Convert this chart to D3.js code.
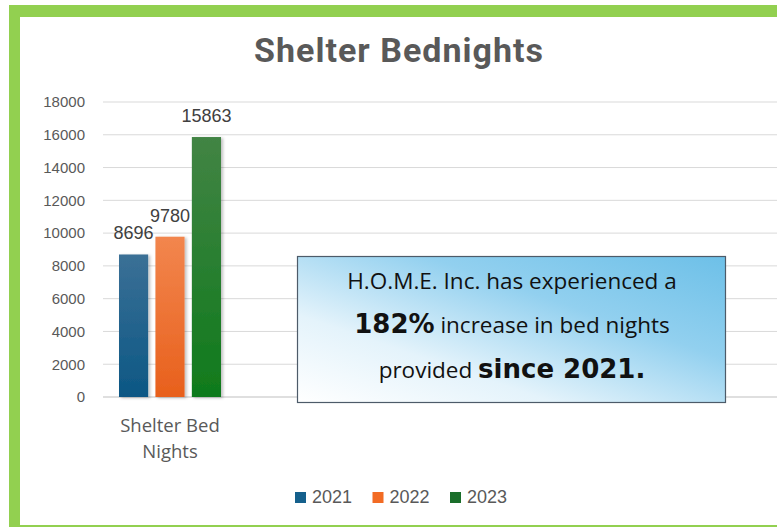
<!DOCTYPE html>
<html>
<head>
<meta charset="utf-8">
<script src="https://cdn.jsdelivr.net/npm/d3@7"></script>
<style>
  body { margin: 0; background: #fff; overflow: hidden; }
  svg { display: block; }
</style>
</head>
<body>
<div id="chart"></div>
<script>
// chart values
var categories = ["Shelter Bed Nights"];
var years = ["2021", "2022", "2023"];
var bednights = [8696, 9780, 15863];
var yTicks = [0, 2000, 4000, 6000, 8000, 10000, 12000, 14000, 16000, 18000];
var titleText = "Shelter Bednights";
var calloutLines = [
  [{ t: "H.O.M.E. Inc. has experienced a", bold: false }],
  [{ t: "182%", bold: true }, { t: " increase in bed nights", bold: false }],
  [{ t: "provided ", bold: false }, { t: "since 2021.", bold: true }]
];

var svgWidth = 777;
var svgHeight = 527;

var colors = {
  "2021": { top: "#3b7096", bottom: "#0c5784", solid: "#15608c" },
  "2022": { top: "#f2864e", bottom: "#e8601c", solid: "#f26b24" },
  "2023": { top: "#428444", bottom: "#0f7a1c", solid: "#1a6e2a" }
};

var svg = d3.select("#chart")
  .append("svg")
  .attr("width", svgWidth)
  .attr("height", svgHeight)
  .style("overflow", "hidden");

var defs = svg.append("defs");

years.forEach(function(yr) {
  var g = defs.append("linearGradient")
    .attr("id", "grad" + yr)
    .attr("x1", 0).attr("y1", 0).attr("x2", 0).attr("y2", 1);
  g.append("stop").attr("offset", "0%").attr("stop-color", colors[yr].top);
  g.append("stop").attr("offset", "100%").attr("stop-color", colors[yr].bottom);
});

var boxGrad = defs.append("linearGradient")
  .attr("id", "boxGrad")
  .attr("x1", 0).attr("y1", 1).attr("x2", 1).attr("y2", 0);
boxGrad.append("stop").attr("offset", "0%").attr("stop-color", "#ffffff");
boxGrad.append("stop").attr("offset", "30%").attr("stop-color", "#e4f3fb");
boxGrad.append("stop").attr("offset", "65%").attr("stop-color", "#92d0ef");
boxGrad.append("stop").attr("offset", "100%").attr("stop-color", "#6dc0e8");

var shadow = defs.append("filter").attr("id", "shadow")
  .attr("x", "-20%").attr("y", "-5%").attr("width", "150%").attr("height", "115%");
shadow.append("feDropShadow")
  .attr("dx", 2).attr("dy", 1).attr("stdDeviation", 1.5)
  .attr("flood-color", "#000").attr("flood-opacity", 0.25);

// green frame: top, left and a sliver of the bottom (right edge is off the picture)
var frame = svg.append("g").attr("fill", "#92d050");
frame.append("rect").attr("x", 9).attr("y", 5).attr("width", 768).attr("height", 12);
frame.append("rect").attr("x", 9).attr("y", 5).attr("width", 11).attr("height", 522);
frame.append("rect").attr("x", 9).attr("y", 525).attr("width", 768).attr("height", 2);

// title
svg.append("text")
  .attr("x", 399)
  .attr("y", 62)
  .attr("text-anchor", "middle")
  .attr("font-family", "Roboto, sans-serif")
  .attr("font-weight", "bold")
  .attr("font-size", 34)
  .attr("letter-spacing", 1)
  .attr("fill", "#595959")
  .text(titleText);

// scales
var y = d3.scaleLinear()
  .domain([0, 18000])
  .range([397, 102]);

var x0 = d3.scaleBand()
  .domain(categories)
  .range([119, 221]);

var x1 = d3.scaleBand()
  .domain(years)
  .range([0, x0.bandwidth()])
  .paddingInner(0.2);

var gridLeft = 103, gridRight = 777;

// gridlines
svg.append("g")
  .selectAll("line")
  .data(yTicks.slice(1))
  .enter()
  .append("line")
  .attr("x1", gridLeft).attr("x2", gridRight)
  .attr("y1", d => y(d)).attr("y2", d => y(d))
  .attr("stroke", "#d9d9d9")
  .attr("stroke-width", 1);

// axis baseline
svg.append("line")
  .attr("x1", gridLeft).attr("x2", gridRight)
  .attr("y1", y(0)).attr("y2", y(0))
  .attr("stroke", "#bfbfbf")
  .attr("stroke-width", 1.2);

// y axis labels
var leftAxis = d3.axisLeft(y).tickValues(yTicks).tickFormat(d3.format("d")).tickSize(0).tickPadding(0);
var yAxis = svg.append("g")
  .attr("transform", "translate(85,0)")
  .call(leftAxis);
yAxis.select(".domain").remove();
yAxis.selectAll("text")
  .attr("font-family", "'Liberation Sans', Arial, sans-serif")
  .attr("font-size", 15)
  .attr("fill", "#595959");

// bars
var rows = years.map(function(yr, i) { return { year: yr, value: bednights[i], cat: categories[0] }; });

svg.append("g")
  .selectAll("rect")
  .data(rows)
  .enter()
  .append("rect")
  .attr("x", d => x0(d.cat) + x1(d.year))
  .attr("y", d => y(d.value))
  .attr("width", x1.bandwidth())
  .attr("height", d => y(0) - y(d.value))
  .attr("fill", d => "url(#grad" + d.year + ")")
  .attr("filter", "url(#shadow)");

// data labels
svg.append("g")
  .selectAll("text")
  .data(rows)
  .enter()
  .append("text")
  .attr("x", d => x0(d.cat) + x1(d.year) + x1.bandwidth() / 2)
  .attr("y", d => y(d.value) - 15)
  .attr("text-anchor", "middle")
  .attr("font-family", "'Liberation Sans', Arial, sans-serif")
  .attr("font-size", 18)
  .attr("fill", "#404040")
  .text(d => d.value);

// category label
var cx = x0(categories[0]) + x0.bandwidth() / 2;
var catLabel = svg.append("text")
  .attr("text-anchor", "middle")
  .attr("font-family", "'Open Sans', sans-serif")
  .attr("font-size", 18.5)
  .attr("fill", "#595959");
catLabel.append("tspan").attr("x", cx).attr("y", 432).text("Shelter Bed");
catLabel.append("tspan").attr("x", cx).attr("y", 458).text("Nights");

// callout box
svg.append("rect")
  .attr("x", 297.5).attr("y", 256.5)
  .attr("width", 428).attr("height", 146)
  .attr("fill", "url(#boxGrad)")
  .attr("stroke", "#4d5b69")
  .attr("stroke-width", 1.2);

var lineY = [289, 333, 378];
calloutLines.forEach(function(parts, i) {
  var t = svg.append("text")
    .attr("x", 512)
    .attr("y", lineY[i])
    .attr("text-anchor", "middle")
    .attr("fill", "#111");
  parts.forEach(function(p) {
    t.append("tspan")
      .attr("font-size", p.bold ? 26 : 22.5)
      .attr("font-weight", p.bold ? "bold" : "normal")
      .attr("font-family", p.bold ? "'DejaVu Sans', sans-serif" : "'Open Sans', sans-serif")
      .attr("xml:space", "preserve")
      .text(p.t);
  });
});

// legend
var legend = svg.append("g")
  .selectAll("g")
  .data(years)
  .enter()
  .append("g")
  .attr("transform", (d, i) => `translate(${295 + i * 77.5}, 0)`);

legend.append("rect")
  .attr("x", 0).attr("y", 492)
  .attr("width", 11).attr("height", 11)
  .attr("fill", d => colors[d].solid);

legend.append("text")
  .attr("x", 17).attr("y", 503)
  .attr("font-family", "'Liberation Sans', Arial, sans-serif")
  .attr("font-size", 18)
  .attr("fill", "#595959")
  .text(d => d);
</script>
</body>
</html>
